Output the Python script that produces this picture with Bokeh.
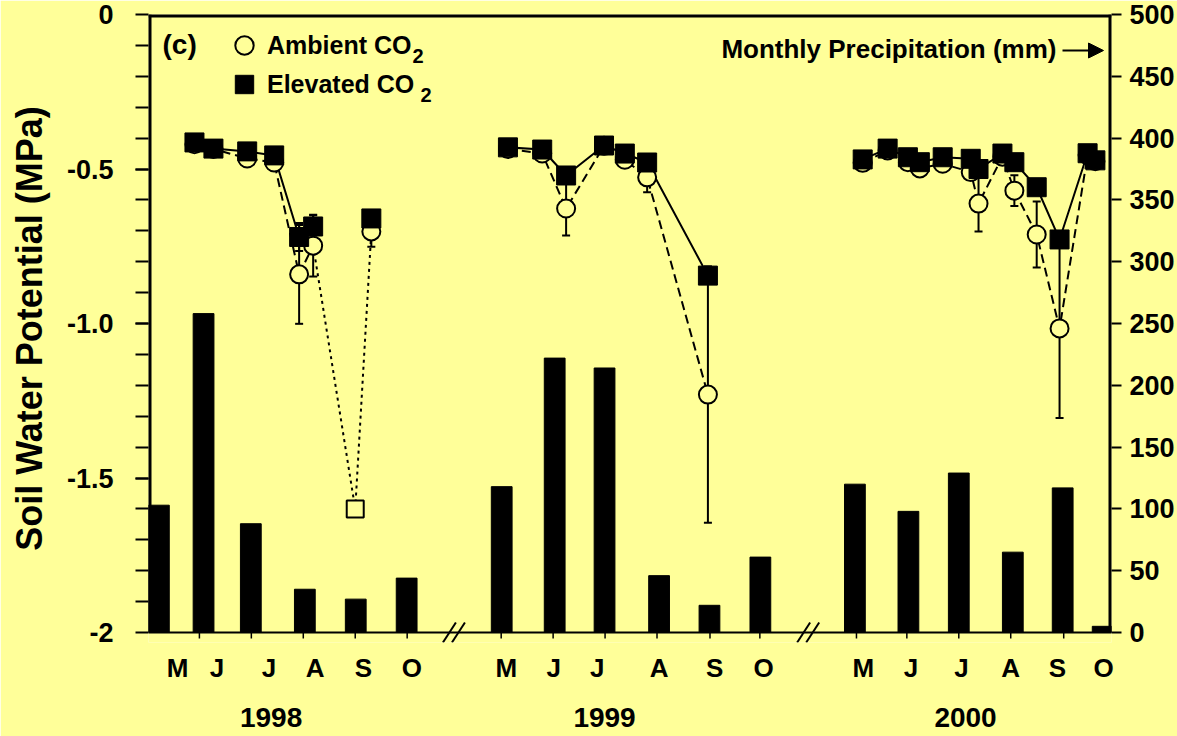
from bokeh.plotting import figure
from bokeh.models import (ColumnDataSource, Range1d, LinearAxis, FixedTicker, Legend,
                          LegendItem, Label, Arrow, NormalHead, Whisker, TeeHead)
from bokeh.embed import file_html
from bokeh.resources import INLINE

BG = "#FFFF99"
FONT = "Liberation Sans"

# ---- time axis: months on a compressed scale, seasons 1998-2000 separated by axis breaks ----
month_names = ["M", "J", "J", "A", "S", "O"] * 3
month_label_t = [0.56, 1.32, 2.32, 3.21, 4.14, 5.07,
                 6.89, 7.80, 8.64, 9.83, 10.90, 11.84,
                 13.76, 14.68, 15.65, 16.60, 17.50, 18.39]
month_tick_t = [0.98, 1.98, 2.98, 3.98, 4.98,
                6.79, 7.79, 8.79, 9.79, 10.81, 11.77,
                13.63, 14.60, 15.60, 16.60, 17.62]
years = ["1998", "1999", "2000"]
year_t = [2.36, 8.78, 15.73]
break_t = [5.88, 12.70]

# ---- monthly precipitation (mm) ----
precip_t = [0.20, 1.06, 1.97, 3.01, 3.99, 4.97,
            6.80, 7.82, 8.78, 9.83, 10.80, 11.78,
            13.60, 14.63, 15.60, 16.64, 17.60, 18.37]
precip_mm = [103, 258, 88, 35, 27, 44,
             118, 222, 214, 46, 22, 61,
             120, 98, 129, 65, 117, 5]

# ---- soil water potential (MPa) ----
t_1998 = [0.885, 1.25, 1.90, 2.42, 2.90, 3.17]
amb_1998 = [-0.42, -0.435, -0.466, -0.479, -0.841, -0.748]
amb_1998_err = [0, 0, 0, 0, 0.16, 0.10]
elev_1998 = [-0.414, -0.434, -0.443, -0.456, -0.72, -0.686]
elev_1998_err = [0, 0, 0, 0, 0.045, 0.036]

# October 1998 (not joined to the season line)
t_oct98 = [4.29]
amb_oct98 = [-0.702]
amb_oct98_err = [0.05]
elev_oct98 = [-0.66]

# single September 1998 reading, joined by a dotted line
t_sep98 = [3.98]
sep98 = [-1.6]

t_1999 = [6.92, 7.58, 8.04, 8.77, 9.17, 9.60, 10.77]
amb_1999 = [-0.435, -0.45, -0.628, -0.425, -0.47, -0.527, -1.23]
amb_1999_err = [0, 0, 0.087, 0, 0, 0.048, 0.415]
elev_1999 = [-0.43, -0.437, -0.521, -0.424, -0.45, -0.479, -0.845]

t_2000 = [13.75, 14.23, 14.62, 14.85, 15.29, 15.83, 15.98,
          16.44, 16.67, 17.10, 17.54, 18.08, 18.23]
amb_2000 = [-0.48, -0.44, -0.478, -0.498, -0.483, -0.51, -0.612,
            -0.46, -0.57, -0.712, -1.016, -0.455, -0.475]
amb_2000_err = [0, 0, 0, 0, 0, 0, 0.09, 0, 0.05, 0.107, 0.29, 0, 0]
elev_2000 = [-0.469, -0.434, -0.462, -0.478, -0.462, -0.467, -0.50,
             -0.45, -0.478, -0.559, -0.728, -0.449, -0.472]

# ---------------------------------------------------------------------------
# The plotting frame reaches a few pixels below -2 MPa so that the axis-break
# strokes can cross the time axis; the axis lines themselves are drawn as glyphs.
T_MAX = 18.54
PAD_PX = 10
SWP_LO = -2 - PAD_PX * 2 / 618
PPT_LO = -PAD_PX * 500 / 618

p = figure(width=1177, height=736, output_backend="svg", toolbar_location=None,
           x_range=Range1d(0, T_MAX), y_range=Range1d(SWP_LO, 0),
           x_axis_type=None, y_axis_type=None,
           min_border_left=148, min_border_right=65,
           min_border_top=14, min_border_bottom=94,
           background_fill_color=BG, border_fill_color=BG,
           outline_line_color=None)
p.extra_y_ranges = {"precip": Range1d(PPT_LO, 500)}


def style_axis(ax, size="27px"):
    ax.axis_line_color = None
    ax.major_tick_line_color = "black"
    ax.minor_tick_line_color = "black"
    ax.major_label_text_font = FONT
    ax.major_label_text_font_style = "bold"
    ax.major_label_text_font_size = size
    ax.major_label_text_color = "black"


# left axis: soil water potential
left = LinearAxis(ticker=FixedTicker(ticks=[0, -0.5, -1.0, -1.5, -2.0],
                                     minor_ticks=[-0.1 * i for i in range(1, 20)]),
                  major_label_overrides={0: "0", -0.5: "-0.5", -1.0: "-1.0",
                                         -1.5: "-1.5", -2.0: "-2"},
                  axis_label="Soil Water Potential (MPa)")
style_axis(left)
left.major_tick_line_width = 2
left.minor_tick_line_width = 2
left.major_tick_out = 13
left.major_tick_in = 0
left.minor_tick_out = 13
left.minor_tick_in = 0
left.major_label_standoff = 22
left.axis_label_text_font = FONT
left.axis_label_text_font_style = "bold"
left.axis_label_text_font_size = "36px"
left.axis_label_text_color = "black"
left.axis_label_standoff = 14
p.add_layout(left, "left")

# right axis: precipitation
right = LinearAxis(y_range_name="precip",
                   ticker=FixedTicker(ticks=list(range(0, 501, 50)), minor_ticks=[]))
style_axis(right)
right.major_tick_line_width = 2
right.major_tick_out = 10
right.major_tick_in = 0
right.major_label_standoff = 8
p.add_layout(right, "right")

# bottom axis: month letters (tick marks are drawn on the -2 MPa line below)
months_ax = LinearAxis(ticker=FixedTicker(ticks=month_label_t, minor_ticks=[]),
                       major_label_overrides=dict(zip(month_label_t, month_names)))
style_axis(months_ax, "26px")
months_ax.major_tick_line_color = None
months_ax.minor_tick_line_color = None
months_ax.major_tick_out = 0
months_ax.major_tick_in = 0
months_ax.major_label_standoff = 10
p.add_layout(months_ax, "below")

# year captions under the months
years_ax = LinearAxis(ticker=FixedTicker(ticks=year_t, minor_ticks=[]),
                      major_label_overrides=dict(zip(year_t, years)))
style_axis(years_ax, "28px")
years_ax.major_tick_line_color = None
years_ax.minor_tick_line_color = None
years_ax.major_tick_out = 0
years_ax.major_tick_in = 0
years_ax.major_label_standoff = 22
p.add_layout(years_ax, "below")

# axis lines: left, right and top borders, time axis at -2 MPa, month ticks
p.segment(x0=[0, T_MAX, 0], y0=[-2, -2, 0], x1=[0, T_MAX, T_MAX], y1=[0, 0, 0],
          line_color="black", line_width=6)
p.segment(x0=[0], y0=[-2], x1=[T_MAX], y1=[-2], line_color="black", line_width=2)
p.segment(x0=month_tick_t, y0=[-2] * len(month_tick_t),
          x1=month_tick_t, y1=[-2 - 6 * 2 / 618] * len(month_tick_t),
          line_color="black", line_width=1.5)

# axis break marks: two slanted strokes across the time axis
brk_x0, brk_x1 = [], []
for b in break_t:
    for off in (-0.087, 0.087):
        brk_x0.append(b + off - 0.125)
        brk_x1.append(b + off + 0.125)
p.segment(x0=brk_x0, y0=[SWP_LO] * len(brk_x0), x1=brk_x1, y1=[-2 - SWP_LO - 2] * len(brk_x0),
          line_color="black", line_width=2)

# precipitation bars
p.vbar(x=precip_t, top=precip_mm, bottom=0, width=0.40, y_range_name="precip",
       fill_color="black", line_color="black")

# error bars (ambient and elevated)
amb_t_all = t_1998 + t_oct98 + t_1999 + t_2000
amb_all = amb_1998 + amb_oct98 + amb_1999 + amb_2000
amb_err_all = amb_1998_err + amb_oct98_err + amb_1999_err + amb_2000_err
err_t, err_lo, err_hi = [], [], []
for t, v, e in zip(amb_t_all, amb_all, amb_err_all):
    if e > 0:
        err_t.append(t); err_lo.append(v - e); err_hi.append(v + e)
for t, v, e in zip(t_1998, elev_1998, elev_1998_err):
    if e > 0:
        err_t.append(t); err_lo.append(v - e); err_hi.append(v + e)
err_src = ColumnDataSource(dict(t=err_t, lo=err_lo, hi=err_hi))
p.add_layout(Whisker(source=err_src, base="t", lower="lo", upper="hi",
                     line_color="black", line_width=2,
                     lower_head=TeeHead(size=8, line_width=2, line_color="black"),
                     upper_head=TeeHead(size=8, line_width=2, line_color="black")))

# ambient: dashed season lines, dotted link through the September reading
p.multi_line(xs=[t_1998, t_1999, t_2000], ys=[amb_1998, amb_1999, amb_2000],
             line_color="black", line_width=2, line_dash="9 5")
p.line(x=[t_1998[-1]] + t_sep98 + t_oct98, y=[amb_1998[-1]] + sep98 + amb_oct98,
       line_color="black", line_width=2, line_dash="3 4")
# elevated: solid season lines
p.multi_line(xs=[t_1998, t_1999, t_2000], ys=[elev_1998, elev_1999, elev_2000],
             line_color="black", line_width=2)

r_amb = p.scatter(x=amb_t_all, y=amb_all, marker="circle", size=18,
                  fill_color=BG, line_color="black", line_width=2)
p.scatter(x=t_sep98, y=sep98, marker="square", size=17,
          fill_color=BG, line_color="black", line_width=2)
elev_t_all = t_1998 + t_oct98 + t_1999 + t_2000
elev_all = elev_1998 + elev_oct98 + elev_1999 + elev_2000
r_elev = p.scatter(x=elev_t_all, y=elev_all, marker="square", size=19,
                   fill_color="black", line_color="black", line_width=1)

# legend (one box per entry so the rows sit where they should)
for label, rend, loc in [("Ambient CO", r_amb, (73, 574)),
                         ("Elevated CO", r_elev, (73, 535))]:
    leg = Legend(items=[LegendItem(label=label, renderers=[rend])], location=loc,
                 glyph_width=46, glyph_height=46, label_standoff=-4,
                 padding=0, margin=0, spacing=0,
                 background_fill_alpha=0, border_line_alpha=0,
                 label_text_font=FONT, label_text_font_style="bold",
                 label_text_font_size="25px", label_text_color="black")
    p.add_layout(leg)

txt = dict(x_units="screen", y_units="screen", text_font=FONT,
           text_font_style="bold", text_color="black")
p.add_layout(Label(x=264, y=580, text="2", text_font_size="20px", **txt))
p.add_layout(Label(x=272, y=541, text="2", text_font_size="20px", **txt))
p.add_layout(Label(x=14, y=583, text="(c)", text_font_size="28px", **txt))
p.add_layout(Label(x=908, y=579, text="Monthly Precipitation (mm)", text_align="right",
                   text_font_size="26px", **txt))
p.add_layout(Arrow(x_start=914, y_start=592, x_end=955, y_end=592,
                   start_units="screen", end_units="screen",
                   line_color="black", line_width=2,
                   end=NormalHead(size=15, fill_color="black", line_color="black")))

open("out.html", "w").write(file_html(p, INLINE))
